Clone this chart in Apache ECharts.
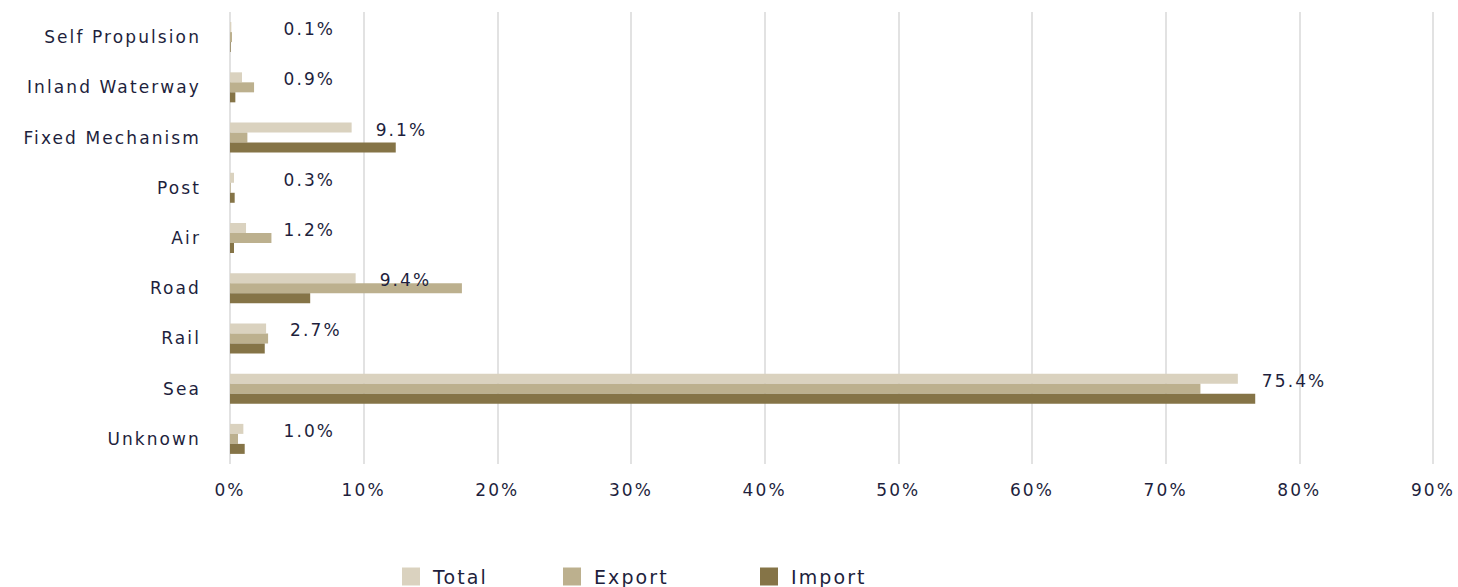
<!DOCTYPE html>
<html>
<head>
<meta charset="utf-8">
<title>Trade share by mode of transport</title>
<script src="https://cdn.jsdelivr.net/npm/echarts@6/dist/echarts.min.js"></script>
<style>
  html, body { margin: 0; padding: 0; background: #ffffff; }
  #chart { width: 1458px; height: 587px; }
  /* wide, airy lettering for every text element in the chart */
  #chart svg text { letter-spacing: 2.1px; }
</style>
</head>
<body>
<div id="chart"></div>
<script>
// Modes of transport, listed top to bottom
const categories = [
  'Self Propulsion', 'Inland Waterway', 'Fixed Mechanism', 'Post',
  'Air', 'Road', 'Rail', 'Sea', 'Unknown'
];

// Share of trade value (%) per mode
const totalShare  = [0.1, 0.9, 9.1, 0.3, 1.2, 9.4, 2.7, 75.4, 1.0];
const exportShare = [0.15, 1.8, 1.3, 0.05, 3.1, 17.35, 2.85, 72.6, 0.6];
const importShare = [0.05, 0.4, 12.4, 0.35, 0.3, 6.0, 2.6, 76.7, 1.1];

const seriesNames = ['Total', 'Export', 'Import'];
const seriesColors = ['#dad2bf', '#bcb08e', '#857447'];

// Value axis ticks (%)
const xTicks = [0, 10, 20, 30, 40, 50, 60, 70, 80, 90];

const textColor = '#1e1f3d';
const fontFamily = '"DejaVu Sans", sans-serif';

const chart = echarts.init(document.getElementById('chart'), null, { renderer: 'svg' });

// Value labels sit just past the Total bar, but never closer to the axis than 4%
function placeValueLabel(params) {
  const minX = chart.convertToPixel({ xAxisIndex: 0 }, 4);
  const barEnd = params.rect.x + params.rect.width;
  return {
    x: Math.max(barEnd + 24, minX),
    y: params.rect.y + params.rect.height / 2 + 2,
    align: 'left',
    verticalAlign: 'middle'
  };
}

const option = {
  backgroundColor: '#ffffff',
  animation: false,
  textStyle: { fontFamily: fontFamily, color: textColor },
  grid: { left: 230, right: 25, top: 12, bottom: 123, containLabel: false },
  legend: seriesNames.map((name, i) => ({
    data: [name],
    left: [397, 558, 755][i],
    top: 562,
    itemWidth: 18,
    itemHeight: 18,
    itemGap: 0,
    icon: 'rect',
    selectedMode: false,
    textStyle: { fontSize: 19, color: textColor, fontFamily: fontFamily, padding: [0, 0, 0, 8] }
  })),
  xAxis: {
    type: 'value',
    min: xTicks[0],
    max: xTicks[xTicks.length - 1],
    interval: xTicks[1] - xTicks[0],
    axisLine: { show: false },
    axisTick: { show: false },
    splitLine: { show: true, lineStyle: { color: '#e2e2e2', width: 2 } },
    axisLabel: {
      formatter: '{value}%',
      fontSize: 17,
      color: textColor,
      fontFamily: fontFamily,
      margin: 17
    }
  },
  yAxis: {
    type: 'category',
    data: categories,
    inverse: true,
    axisLine: { show: false },
    axisTick: { show: false },
    splitLine: { show: false },
    axisLabel: {
      fontSize: 17,
      color: textColor,
      fontFamily: fontFamily,
      margin: 29
    }
  },
  series: [totalShare, exportShare, importShare].map((values, i) => ({
    name: seriesNames[i],
    type: 'bar',
    data: values,
    barWidth: 10,
    barGap: '0%',
    itemStyle: { color: seriesColors[i] },
    label: i === 0 ? {
      show: true,
      position: 'right',
      formatter: p => p.value.toFixed(1) + '%',
      fontSize: 17,
      color: textColor,
      fontFamily: fontFamily
    } : { show: false },
    labelLayout: i === 0 ? placeValueLabel : undefined
  }))
};

chart.setOption(option);
</script>
</body>
</html>
